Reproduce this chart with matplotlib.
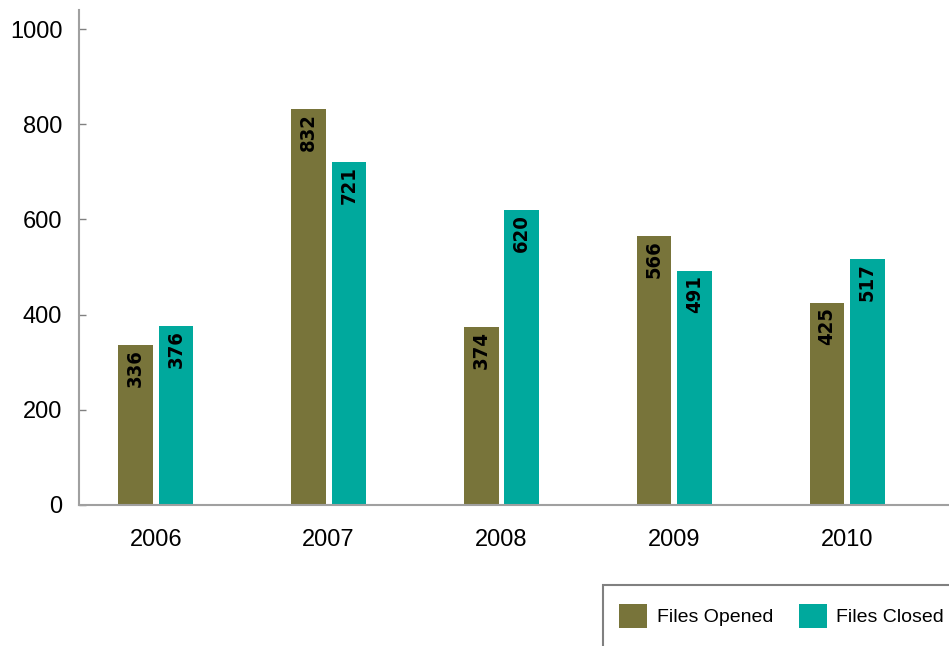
import numpy as np
import matplotlib.pyplot as plt
from matplotlib.patches import Rectangle

years = ['2006', '2007', '2008', '2009', '2010']
files_opened = [336, 832, 374, 566, 425]
files_closed = [376, 721, 620, 491, 517]
y_ticks = [0, 200, 400, 600, 800, 1000]

olive = '#78743a'
teal = '#00a99d'
grey = '#a0a0a0'

plt.rcParams['font.family'] = ['Liberation Sans', 'DejaVu Sans']

fig = plt.figure(figsize=(9.49, 6.46), dpi=100)
ax = fig.add_axes([0.0832, 0.2183, 0.916, 0.766])

x = np.arange(len(years))
w = 0.2
off = 0.117
bars_o = ax.bar(x - off, files_opened, w, color=olive, label='Files Opened')
bars_c = ax.bar(x + off, files_closed, w, color=teal, label='Files Closed')

# value labels, rotated and sitting just inside the top of each bar
for bars in (bars_o, bars_c):
    for b in bars:
        h = b.get_height()
        ax.annotate(str(int(h)), (b.get_x() + b.get_width() / 2, h),
                    xytext=(0, -3), textcoords='offset points',
                    rotation=90, ha='center', va='top',
                    fontsize=14.5, fontweight='bold', fontstretch='condensed',
                    family='DejaVu Sans')

ax.set_xlim(-0.445, 4.585)
ax.set_ylim(0, 1040)
ax.set_yticks(y_ticks)
ax.set_xticks(x)
ax.set_xticklabels(years)

for s in ('top', 'right'):
    ax.spines[s].set_visible(False)
for s in ('left', 'bottom'):
    ax.spines[s].set_color(grey)
    ax.spines[s].set_linewidth(1.5)

ax.tick_params(axis='y', direction='in', length=5, width=1, color='#808080',
               pad=12, labelsize=17)
ax.tick_params(axis='x', length=0, pad=17, labelsize=17)

# legend box, running off the bottom right corner
fig.patches.append(Rectangle((603 / 949, -0.1), 0.5, 0.1 + (646 - 585) / 646,
                             transform=fig.transFigure, fill=False,
                             edgecolor='#808080', linewidth=1.5))
fig.legend(handles=[bars_o, bars_c], loc='center left',
           bbox_to_anchor=(619 / 949, 1 - 616 / 646), ncol=2, frameon=False,
           fontsize=14, handlelength=1.45, handleheight=1.45,
           handletextpad=0.5, columnspacing=1.3, borderpad=0,
           borderaxespad=0)

fig.savefig('out.png', dpi=100)
